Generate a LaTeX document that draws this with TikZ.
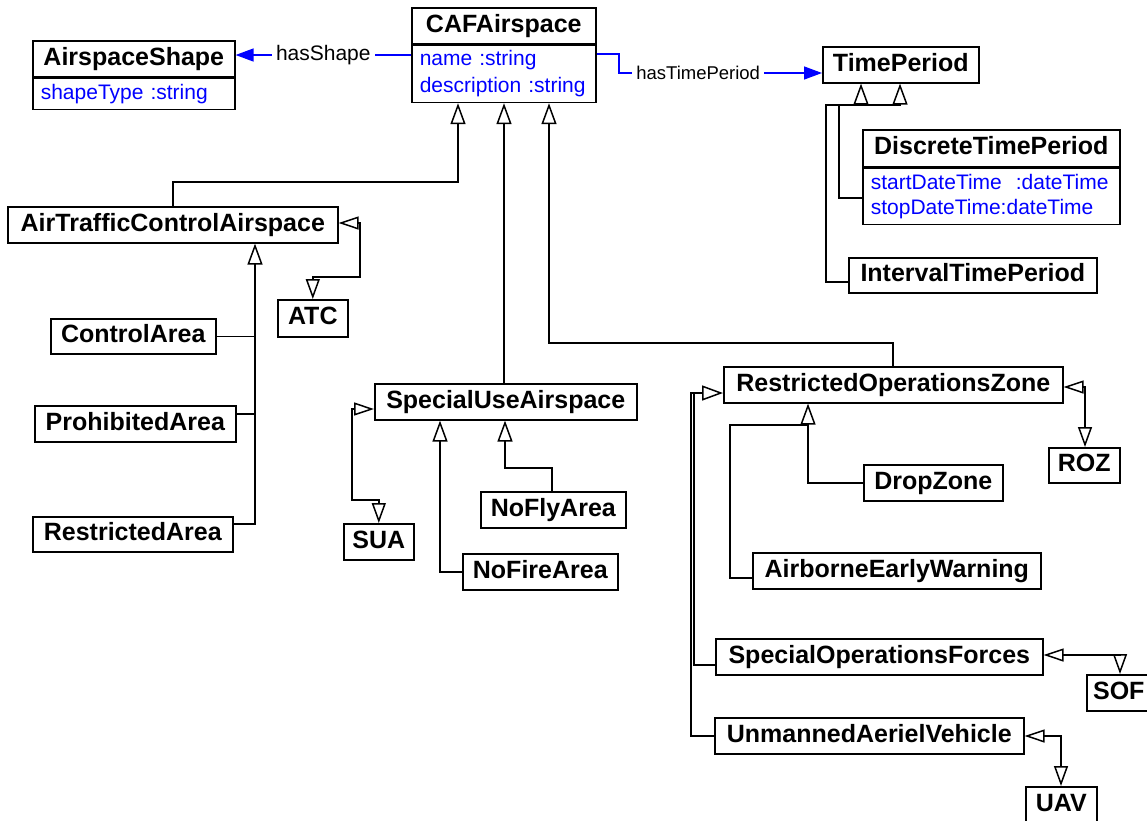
\documentclass[tikz,border=0pt]{standalone}
\usepackage{fontspec}
\setmainfont{Liberation Sans}
\usetikzlibrary{arrows.meta,positioning}
\definecolor{attrblue}{RGB}{0,0,255}

\begin{document}
\begin{tikzpicture}[
   x=1pt, y=-1pt,
   cls/.style={draw, line width=1.6pt, anchor=north west, inner sep=0pt,
               minimum height=36pt, text height=18pt, text depth=5pt,
               font=\bfseries\fontsize{25}{30}\selectfont},
   attrs/.style={draw, line width=1.6pt, inner xsep=8pt, inner ysep=0pt, align=left,
               text=attrblue, font=\fontsize{21}{27}\selectfont},
   wire/.style={line width=1.5pt},
   gen/.style={wire, -{Triangle[open, length=21pt, width=15pt]}},
   link/.style={wire,
               {Triangle[open, length=20pt, width=13pt]}-{Triangle[open, length=20pt, width=14pt]}},
   assoc/.style={attrblue, line width=1.4pt, -{Triangle[length=18pt, width=13pt]}},
   role/.style={fill=white, text=black, inner xsep=4pt, inner ysep=1pt,
               font=\fontsize{21}{24}\selectfont}]

\useasboundingbox (0,0) rectangle (1147,820);
\clip (0,0) rectangle (1147,820);

% classes
\node[cls, minimum width=184pt] (caf) at (411,7) {CAFAirspace};
\node[attrs, below=0pt of caf, text width=168pt, minimum height=57pt] (cafattr)
    {name :string\\description :string};
\node[cls, minimum width=202pt] (ashape) at (32,40) {AirspaceShape};
\node[attrs, below=0pt of ashape, text width=186pt, minimum height=31pt] (ashapeattr)
    {shapeType :string};
\node[cls, minimum width=156pt] (tperiod) at (822,46) {TimePeriod};
\node[cls, minimum width=257pt, minimum height=37pt] (dtp) at (862,129) {DiscreteTimePeriod};
\node[attrs, below=0pt of dtp, text width=241pt, minimum height=56pt,
      font=\fontsize{21}{25}\selectfont] (dtpattr)
    {startDateTime~ :dateTime\\stopDateTime:dateTime};
\node[cls, minimum width=248pt, minimum height=35pt] (itp) at (848,257) {IntervalTimePeriod};

\node[cls, minimum width=330pt] (atca) at (7,206) {AirTrafficControlAirspace};
\node[cls, minimum width=70pt, minimum height=37pt] (atc) at (277,299) {ATC};
\node[cls, minimum width=165pt, minimum height=35pt] (ctrl) at (50,318) {ControlArea};
\node[cls, minimum width=201pt] (prohib) at (34,405) {ProhibitedArea};
\node[cls, minimum width=200pt, minimum height=35pt] (restr) at (32,516) {RestrictedArea};

\node[cls, minimum width=262pt] (spua) at (374,383) {SpecialUseAirspace};
\node[cls, minimum width=70pt] (sua) at (343,523) {SUA};
\node[cls, minimum width=145pt] (nofly) at (480,491) {NoFlyArea};
\node[cls, minimum width=155pt] (nofire) at (462,553) {NoFireArea};

\node[cls, minimum width=339pt] (roz) at (723,366) {RestrictedOperationsZone};
\node[cls, minimum width=71pt, minimum height=35pt] (rozabbr) at (1048,447) {ROZ};
\node[cls, minimum width=139pt] (drop) at (863,464) {DropZone};
\node[cls, minimum width=288pt] (aew) at (752,552) {AirborneEarlyWarning};
\node[cls, minimum width=327pt] (sofc) at (715,638) {SpecialOperationsForces};
\node[cls, minimum width=64pt] (sof) at (1086,674) {SOF};
\node[cls, minimum width=309pt] (uavc) at (714,717) {UnmannedAerielVehicle};
\node[cls, minimum width=71pt] (uav) at (1025,786) {UAV};

% associations
\draw[assoc] (cafattr.west |- 0,55) -- node[role]{hasShape} (ashapeattr.east |- 0,55);
\draw[assoc] (cafattr.east |- 0,54) -- (619,54) -- (619,73)
    -- node[role, pos=0.39, font=\fontsize{18.5}{22}\selectfont]{hasTimePeriod} (tperiod.west |- 0,73);

% generalisations
\draw[gen] (atca.north -| 173,0) |- (458,182) -- (cafattr.south -| 458,0);
\draw[gen] (spua.north -| 504,0) -- (cafattr.south -| 504,0);
\draw[gen] (roz.north -| 893,0) |- (549,343) -- (cafattr.south -| 549,0);
\draw[gen] (itp.west |- 0,282) -| (826,105) -- (861,105) -- (tperiod.south -| 861,0);
\draw[gen] (dtpattr.west |- 0,198) -| (839,105) -- (900,105) -- (tperiod.south -| 900,0);

\draw[gen] (restr.east |- 0,524) -| (atca.south -| 255,0);
\draw[wire] (ctrl.east) -- (ctrl.east -| 255,0);
\draw[wire] (prohib.east |- 0,414) -- (255,414);

\draw[gen] (nofire.west) -| (spua.south -| 440,0);
\draw[gen] (nofly.north -| 552,0) |- (505,468) -- (spua.south -| 505,0);

\draw[gen] (drop.west) -| (roz.south -| 808,0);
\draw[wire] (aew.west |- 0,578) -| (730,425) -- (808,425);
\draw[gen] (sofc.west |- 0,665) -| (694,393) -- (roz.west |- 0,393);
\draw[wire] (uavc.west) -| (691,393) -- (703,393);

% abbreviations
\draw[link] (atca.east |- 0,223) -| (360,277) -| (atc.north);
\draw[link] (spua.west |- 0,409) -| (352,500) -| (sua.north);
\draw[link] (roz.east |- 0,387) -| (rozabbr.north -| 1085,0);
\draw[link] (sofc.east |- 0,655) -| (sof.north -| 1120,0);
\draw[link] (uavc.east |- 0,736) -| (uav.north -| 1061,0);

\end{tikzpicture}
\end{document}
